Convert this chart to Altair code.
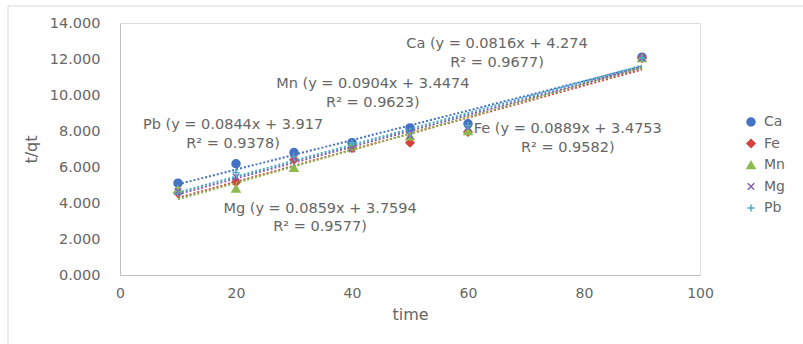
import altair as alt
import pandas as pd

series = ["Ca", "Fe", "Mn", "Mg", "Pb"]
times = [10, 20, 30, 40, 50, 60, 90]
ca = [5.10, 6.18, 6.80, 7.35, 8.17, 8.40, 12.10]
fe = [4.55, 5.15, 6.40, 7.05, 7.35, 7.95, 12.05]
mn = [4.75, 4.80, 5.95, 7.20, 7.70, 8.00, 12.05]
mg = [4.65, 5.45, 6.55, 7.00, 7.75, 8.20, 12.05]
pb = [4.50, 5.70, 6.60, 7.35, 7.90, 8.30, 12.05]
colors = ["#4472C4", "#D6403D", "#8DBB4F", "#7F5FB3", "#4BACC6"]
shapes = ["circle", "diamond", "triangle-up",
          "M-0.8,-0.8L0.8,0.8M-0.8,0.8L0.8,-0.8",
          "M-0.9,0L0.9,0M0,-0.9L0,0.9"]

eq_labels = [
    "Ca (y = 0.0816x + 4.274\nR² = 0.9677)",
    "Fe (y = 0.0889x + 3.4753\nR² = 0.9582)",
    "Mn (y = 0.0904x + 3.4474\nR² = 0.9623)",
    "Mg (y = 0.0859x + 3.7594\nR² = 0.9577)",
    "Pb (y = 0.0844x + 3.917\nR² = 0.9378)",
]
eq_x = [65.0, 77.2, 43.6, 34.5, 19.5]
eq_y = [12.83, 8.11, 10.61, 3.67, 8.33]

values = {"Ca": ca, "Fe": fe, "Mn": mn, "Mg": mg, "Pb": pb}
rows = []
for s in series:
    for t, v in zip(times, values[s]):
        rows.append({"series": s, "time": t, "value": v})
df = pd.DataFrame(rows)
ann = pd.DataFrame({"label": eq_labels, "x": eq_x, "y": eq_y})

gray = "#666666"
font = "DejaVu Sans"

xscale = alt.Scale(domain=[0, 100], nice=False)
yscale = alt.Scale(domain=[0, 14], nice=False)
cscale = alt.Scale(domain=series, range=colors)

xaxis = alt.Axis(values=[0, 20, 40, 60, 80, 100], title="time", grid=False, ticks=False,
                 domainColor="#BFBFBF", labelColor=gray, labelFontSize=14, labelFont=font,
                 labelPadding=11, labelFlush=False, labelOverlap=False,
                 titleColor=gray, titleFontSize=16, titleFont=font,
                 titleFontWeight="normal", titlePadding=6)
yaxis = alt.Axis(values=[0, 2, 4, 6, 8, 10, 12, 14], format=".3f", title="t/qt", grid=False,
                 ticks=False, domainColor="#BFBFBF", labelColor=gray, labelFontSize=14.5,
                 labelFont=font, labelPadding=20, labelFlush=False, labelOverlap=False,
                 titleColor=gray, titleFontSize=16,
                 titleFont=font, titleFontWeight="normal", titlePadding=10)

legend = alt.Legend(title=None, orient="none", legendX=624, legendY=92, labelFontSize=14,
                    labelFont=font, labelColor=gray, rowPadding=7.5, symbolSize=64,
                    symbolStrokeWidth=1.5, labelOffset=6)

border = alt.Chart(pd.DataFrame({"a": [0]})).mark_rect(
    fill=None, stroke="#D9D9D9", strokeWidth=1, clip=False
).encode(x=alt.value(-112), x2=alt.value(700), y=alt.value(-17), y2=alt.value(340))

base = alt.Chart(df)

lines = base.transform_regression(
    "time", "value", groupby=["series"], extent=[10, 90]
).mark_line(strokeDash=[2, 2], strokeWidth=2).encode(
    x=alt.X("time:Q", scale=xscale, axis=xaxis),
    y=alt.Y("value:Q", scale=yscale, axis=yaxis),
    color=alt.Color("series:N", scale=cscale, legend=None),
    detail="series:N",
)

text = alt.Chart(ann).mark_text(
    fontSize=14.5, font=font, color=gray, lineBreak="\n", lineHeight=18.5, align="center",
    baseline="middle"
).encode(x=alt.X("x:Q", scale=xscale, axis=xaxis), y=alt.Y("y:Q", scale=yscale, axis=yaxis),
         text="label:N")

points = base.mark_point(filled=True, size=64, strokeWidth=1.5, opacity=1).encode(
    x=alt.X("time:Q", scale=xscale, axis=xaxis),
    y=alt.Y("value:Q", scale=yscale, axis=yaxis),
    fill=alt.Fill("series:N", scale=cscale, legend=legend, sort=series),
    stroke=alt.Stroke("series:N", scale=cscale, legend=legend, sort=series),
    shape=alt.Shape("series:N", scale=alt.Scale(domain=series, range=shapes), legend=legend,
                    sort=series),
)

chart = alt.layer(border, text, points, lines).properties(
    width=580, height=252,
    autosize=alt.AutoSizeParams(type="none"),
    padding={"left": 120, "top": 23, "right": 103, "bottom": 69},
).configure_view(stroke=None).configure(background="white")

chart.save("out.html", embed_options={"renderer": "svg", "actions": False})
